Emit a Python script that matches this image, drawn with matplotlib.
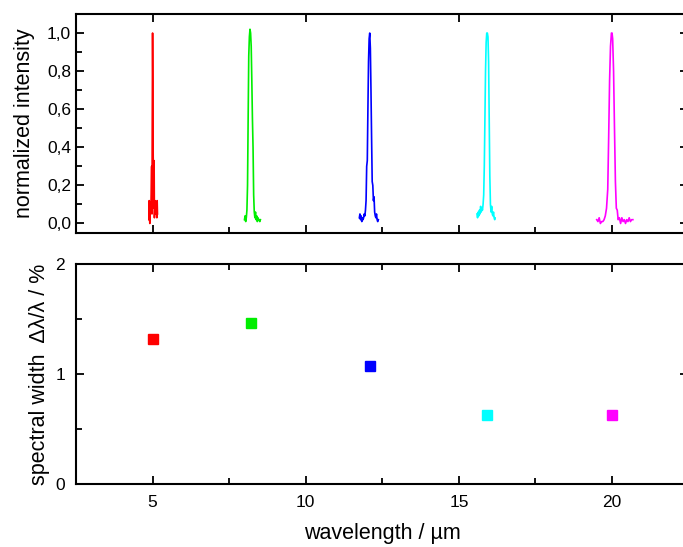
import numpy as np
import matplotlib
matplotlib.use("Agg")
import matplotlib.pyplot as plt
from matplotlib.ticker import MultipleLocator, FuncFormatter

plt.rcParams['font.family'] = ['Liberation Sans', 'DejaVu Sans']

# spectra
red_x = [4.88, 4.89, 4.90, 4.91, 4.93, 4.95, 4.97, 4.98, 4.99, 5.00, 5.01, 5.02, 5.03, 5.04, 5.05, 5.06, 5.08, 5.10, 5.12, 5.14, 5.15, 5.16]
red_y = [0.02, 0.12, 0.03, 0.00, 0.10, 0.12, 0.30, 0.05, 0.55, 1.00, 0.74, 0.35, 0.28, 0.08, 0.33, 0.03, 0.12, 0.05, 0.11, 0.03, 0.12, 0.05]

green_x = [8.00, 8.02, 8.04, 8.06, 8.08, 8.10, 8.12, 8.14, 8.16, 8.18, 8.20, 8.22, 8.24, 8.26, 8.28, 8.30, 8.32, 8.34, 8.36, 8.38, 8.40, 8.42, 8.44, 8.46, 8.48, 8.50, 8.52]
green_y = [0.02, 0.04, 0.01, 0.03, 0.07, 0.20, 0.55, 0.88, 0.98, 1.02, 1.00, 0.93, 0.75, 0.55, 0.40, 0.15, 0.06, 0.03, 0.06, 0.02, 0.04, 0.01, 0.03, 0.02, 0.02, 0.01, 0.02]

blue_x = [11.75, 11.77, 11.79, 11.81, 11.83, 11.85, 11.87, 11.89, 11.91, 11.93, 11.95, 11.97, 11.99, 12.01, 12.03, 12.05, 12.07, 12.09, 12.11, 12.13, 12.15, 12.17, 12.19, 12.21, 12.23, 12.25, 12.27, 12.29, 12.31, 12.33, 12.35, 12.37]
blue_y = [0.03, 0.05, 0.02, 0.04, 0.01, 0.03, 0.02, 0.03, 0.05, 0.04, 0.07, 0.12, 0.30, 0.33, 0.60, 0.85, 0.97, 1.00, 0.92, 0.70, 0.45, 0.22, 0.20, 0.12, 0.14, 0.06, 0.04, 0.03, 0.05, 0.02, 0.01, 0.02]

cyan_x = [15.59, 15.61, 15.63, 15.65, 15.67, 15.69, 15.71, 15.73, 15.75, 15.77, 15.79, 15.81, 15.83, 15.85, 15.87, 15.89, 15.91, 15.93, 15.95, 15.97, 15.99, 16.01, 16.03, 16.05, 16.07, 16.09, 16.11, 16.13, 16.15, 16.17, 16.18]
cyan_y = [0.05, 0.03, 0.06, 0.04, 0.07, 0.05, 0.09, 0.06, 0.08, 0.07, 0.10, 0.15, 0.30, 0.55, 0.80, 0.95, 1.00, 1.00, 0.98, 0.85, 0.55, 0.25, 0.10, 0.06, 0.09, 0.05, 0.04, 0.06, 0.03, 0.02, 0.03]

mag_x = [19.50, 19.54, 19.58, 19.62, 19.66, 19.70, 19.74, 19.78, 19.82, 19.86, 19.89, 19.92, 19.95, 19.98, 20.00, 20.02, 20.05, 20.08, 20.11, 20.14, 20.17, 20.20, 20.24, 20.28, 20.32, 20.36, 20.40, 20.44, 20.48, 20.52, 20.56, 20.60, 20.64, 20.68]
mag_y = [0.02, 0.01, 0.03, 0.00, 0.01, 0.01, 0.02, 0.04, 0.08, 0.18, 0.45, 0.75, 0.93, 1.00, 1.00, 0.97, 0.80, 0.50, 0.22, 0.08, 0.07, 0.02, 0.03, 0.00, 0.03, 0.01, 0.02, 0.00, 0.02, 0.01, 0.03, 0.01, 0.02, 0.02]

# spectral widths
wl = [5.0, 8.2, 12.1, 15.93, 20.0]
width = [1.32, 1.46, 1.07, 0.63, 0.63]

colors = ['#ff0000', '#00ee00', '#0000ff', '#00ffff', '#ff00ff']
spectra = [(red_x, red_y), (green_x, green_y), (blue_x, blue_y), (cyan_x, cyan_y), (mag_x, mag_y)]

W, H = 683, 547
fig = plt.figure(figsize=(W / 100, H / 100), dpi=100)
ax1 = fig.add_axes([76 / W, (H - 233) / H, 612 / W, 219 / H])
ax2 = fig.add_axes([76 / W, (H - 484) / H, 612 / W, 220 / H])

comma = FuncFormatter(lambda v, p: ("%.1f" % v).replace(".", ","))

for (x, y), c in zip(spectra, colors):
    ax1.plot(x, y, color=c, lw=1.2)

ax1.set_xlim(2.5, 22.48)
ax1.set_ylim(-0.05, 1.1)
ax1.xaxis.set_major_locator(MultipleLocator(5))
ax1.xaxis.set_minor_locator(MultipleLocator(2.5))
ax1.yaxis.set_major_locator(MultipleLocator(0.2))
ax1.yaxis.set_minor_locator(MultipleLocator(0.1))
ax1.yaxis.set_major_formatter(comma)
ax1.tick_params(which='both', direction='in', top=True, right=True, labelbottom=False, labelsize=12.5, width=1.3)
ax1.tick_params(which='major', length=6)
ax1.tick_params(which='minor', length=4, top=False, right=False)
ax1.set_ylabel("normalized intensity", fontsize=15.5, labelpad=9)

for x, y, c in zip(wl, width, colors):
    ax2.plot(x, y, 's', color=c, ms=7.5)

ax2.set_xlim(2.5, 22.48)
ax2.set_ylim(0, 2)
ax2.xaxis.set_major_locator(MultipleLocator(5))
ax2.xaxis.set_minor_locator(MultipleLocator(2.5))
ax2.yaxis.set_major_locator(MultipleLocator(1))
ax2.yaxis.set_minor_locator(MultipleLocator(0.5))
ax2.tick_params(which='both', direction='in', top=True, right=True, labelsize=12.5, width=1.3)
ax2.tick_params(which='major', length=6, pad=8)
ax2.tick_params(which='minor', length=4, right=False)
ax2.set_xlabel("wavelength / µm", fontsize=15.5, labelpad=9)
ax2.set_ylabel("spectral width  Δλ/λ / %", fontsize=15.5, labelpad=4)

for ax in (ax1, ax2):
    for s in ax.spines.values():
        s.set_linewidth(1.5)

fig.savefig("out.png", dpi=100)
